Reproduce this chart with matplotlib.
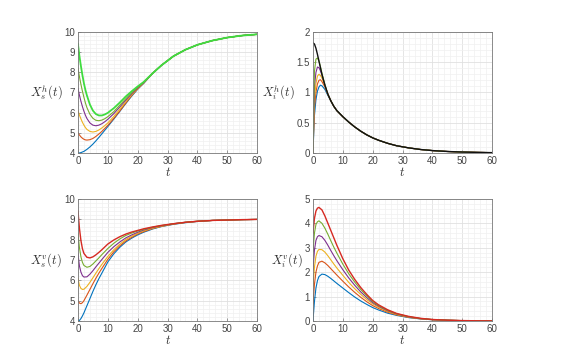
import matplotlib
matplotlib.use('Agg')
import matplotlib.pyplot as plt
import numpy as np
from matplotlib.ticker import MultipleLocator, FormatStrFormatter

plt.rcParams['font.family'] = ['Liberation Sans', 'DejaVu Sans']
plt.rcParams['mathtext.fontset'] = 'cm'

# time samples
t_top = [0, 0.5, 1, 1.5, 2, 2.5, 3, 4, 5, 6, 7, 8, 9, 10, 12, 14, 16, 18, 20, 22,
         25, 28, 32, 36, 40, 45, 50, 55, 60]
t_bot = [0, 0.5, 1, 1.5, 2, 3, 4, 5, 6, 7, 8, 10, 12, 14, 16, 18, 20, 22,
         25, 28, 32, 36, 40, 45, 50, 55, 60]

# X_s^h(t)
xsh_tail = [7.95, 8.35, 8.8, 9.12, 9.36, 9.57, 9.72, 9.82, 9.88]
xsh_1 = [4.0, 4.0, 4.02, 4.05, 4.08, 4.13, 4.18, 4.3, 4.44, 4.6, 4.77, 4.95, 5.13, 5.31,
         5.68, 6.06, 6.45, 6.82, 7.16, 7.45] + xsh_tail
xsh_2 = [5.0, 4.89, 4.8, 4.73, 4.68, 4.65, 4.64, 4.66, 4.72, 4.82, 4.94, 5.07, 5.22, 5.37,
         5.71, 6.08, 6.47, 6.85, 7.18, 7.46] + xsh_tail
xsh_3 = [6.1, 5.88, 5.69, 5.52, 5.38, 5.26, 5.17, 5.07, 5.04, 5.07, 5.14, 5.24, 5.36, 5.49,
         5.81, 6.17, 6.54, 6.89, 7.2, 7.47] + xsh_tail
xsh_4 = [7.2, 6.86, 6.56, 6.3, 6.07, 5.87, 5.71, 5.49, 5.38, 5.35, 5.38, 5.45, 5.55, 5.67,
         5.95, 6.28, 6.62, 6.94, 7.23, 7.48] + xsh_tail
xsh_5 = [8.2, 7.78, 7.4, 7.06, 6.76, 6.48, 6.25, 5.92, 5.72, 5.62, 5.6, 5.63, 5.7, 5.8,
         6.05, 6.37, 6.69, 6.99, 7.26, 7.5] + xsh_tail
xsh_6 = [9.4, 8.8, 8.3, 7.85, 7.45, 7.12, 6.85, 6.4, 6.1, 5.93, 5.86, 5.86, 5.91, 5.99,
         6.22, 6.5, 6.8, 7.06, 7.3, 7.52] + xsh_tail

# X_i^h(t)
xih_tail = [0.86, 0.77, 0.7, 0.65, 0.6, 0.51, 0.43, 0.36, 0.3, 0.25, 0.21,
            0.16, 0.12, 0.085, 0.058, 0.04, 0.025, 0.016, 0.01, 0.006]
xih_1 = [0, 0.62, 0.88, 1.02, 1.09, 1.12, 1.11, 1.05, 0.95] + xih_tail
xih_2 = [0, 0.75, 1.0, 1.14, 1.2, 1.21, 1.18, 1.09, 0.97] + xih_tail
xih_3 = [0, 0.9, 1.15, 1.27, 1.3, 1.28, 1.24, 1.11, 0.97] + xih_tail
xih_4 = [0, 1.1, 1.33, 1.42, 1.41, 1.36, 1.29, 1.12, 0.97] + xih_tail
xih_5 = [0, 1.35, 1.55, 1.57, 1.52, 1.43, 1.32, 1.13, 0.97] + xih_tail
xih_6 = [1.82, 1.8, 1.73, 1.63, 1.52, 1.41, 1.3, 1.12, 0.97] + xih_tail

# X_s^v(t)
xsv_1 = [4.0, 4.03, 4.12, 4.25, 4.4, 4.75, 5.1, 5.45, 5.78, 6.08, 6.35, 6.9, 7.3, 7.62,
         7.88, 8.07, 8.23, 8.36, 8.52, 8.64, 8.75, 8.83, 8.89, 8.94, 8.96, 8.98, 8.99]
xsv_2 = [5.0, 4.88, 4.85, 4.9, 5.0, 5.27, 5.55, 5.83, 6.1, 6.35, 6.58, 7.03, 7.4, 7.69,
         7.93, 8.11, 8.27, 8.39, 8.54, 8.65, 8.76, 8.84, 8.89, 8.94, 8.96, 8.98, 8.99]
xsv_3 = [6.1, 5.75, 5.6, 5.55, 5.56, 5.7, 5.9, 6.12, 6.35, 6.57, 6.78, 7.17, 7.5, 7.77,
         8.0, 8.17, 8.31, 8.43, 8.56, 8.66, 8.77, 8.85, 8.9, 8.94, 8.96, 8.98, 8.99]
xsv_4 = [7.3, 6.7, 6.4, 6.23, 6.16, 6.17, 6.3, 6.47, 6.66, 6.84, 7.02, 7.37, 7.65, 7.88,
         8.08, 8.23, 8.36, 8.47, 8.59, 8.68, 8.78, 8.85, 8.9, 8.94, 8.96, 8.98, 8.99]
xsv_5 = [8.3, 7.6, 7.15, 6.88, 6.73, 6.64, 6.68, 6.8, 6.95, 7.1, 7.26, 7.56, 7.82, 8.03,
         8.2, 8.32, 8.42, 8.5, 8.61, 8.69, 8.78, 8.85, 8.9, 8.94, 8.96, 8.98, 8.99]
xsv_6 = [9.4, 8.55, 7.95, 7.55, 7.32, 7.13, 7.1, 7.15, 7.25, 7.37, 7.5, 7.78, 7.98, 8.14,
         8.27, 8.37, 8.45, 8.53, 8.62, 8.7, 8.78, 8.85, 8.9, 8.94, 8.96, 8.98, 8.99]

# X_i^v(t)
xiv_1 = [0, 0.8, 1.35, 1.65, 1.82, 1.92, 1.9, 1.83, 1.74, 1.64, 1.54, 1.35, 1.16, 0.98,
         0.82, 0.68, 0.55, 0.45, 0.32, 0.23, 0.14, 0.085, 0.05, 0.028, 0.015, 0.008, 0.004]
xiv_2 = [0.7, 1.5, 2.0, 2.25, 2.4, 2.45, 2.38, 2.27, 2.14, 2.01, 1.88, 1.63, 1.39, 1.17,
         0.97, 0.79, 0.63, 0.51, 0.36, 0.25, 0.15, 0.09, 0.053, 0.029, 0.016, 0.008, 0.004]
xiv_3 = [1.4, 2.2, 2.65, 2.85, 2.93, 2.92, 2.82, 2.67, 2.5, 2.33, 2.17, 1.87, 1.58, 1.32,
         1.09, 0.88, 0.7, 0.56, 0.39, 0.27, 0.16, 0.095, 0.056, 0.03, 0.016, 0.008, 0.004]
xiv_4 = [2.1, 2.9, 3.3, 3.45, 3.5, 3.45, 3.3, 3.1, 2.88, 2.67, 2.47, 2.1, 1.76, 1.46,
         1.19, 0.96, 0.75, 0.6, 0.42, 0.29, 0.17, 0.1, 0.058, 0.031, 0.017, 0.009, 0.004]
xiv_5 = [2.85, 3.6, 3.95, 4.06, 4.1, 4.0, 3.8, 3.55, 3.28, 3.02, 2.78, 2.33, 1.93, 1.59,
         1.29, 1.03, 0.8, 0.63, 0.44, 0.3, 0.18, 0.105, 0.06, 0.032, 0.017, 0.009, 0.004]
xiv_6 = [3.6, 4.2, 4.5, 4.62, 4.65, 4.55, 4.3, 4.0, 3.7, 3.4, 3.1, 2.55, 2.08, 1.7,
         1.37, 1.09, 0.84, 0.66, 0.46, 0.31, 0.19, 0.11, 0.062, 0.033, 0.018, 0.009, 0.004]

base_colors = ['#0072BD', '#D95319', '#EDB120', '#7E2F8E', '#77AC30']


def style_axes(ax, ylim, ymajor, yminor, ylabel):
    ax.set_xlim(0, 60)
    ax.set_ylim(*ylim)
    ax.xaxis.set_major_locator(MultipleLocator(10))
    ax.xaxis.set_minor_locator(MultipleLocator(2))
    ax.yaxis.set_major_locator(MultipleLocator(ymajor))
    ax.yaxis.set_minor_locator(MultipleLocator(yminor))
    ax.yaxis.set_major_formatter(FormatStrFormatter('%g'))
    ax.grid(True, which='major', color='#e0e0e0', linewidth=0.6)
    ax.grid(True, which='minor', color='#f0f0f0', linewidth=0.5)
    ax.set_axisbelow(True)
    for s in ax.spines.values():
        s.set_color('#777777')
        s.set_linewidth(0.6)
    ax.tick_params(which='both', direction='in', colors='#777777', labelcolor='#444444',
                   labelsize=7, length=2, width=0.5, pad=2)
    ax.tick_params(which='minor', length=0)
    ax.set_xlabel('$t$', fontsize=9, labelpad=0, color='#333333')
    ax.set_ylabel(ylabel, fontsize=9, rotation=0, color='#333333', labelpad=13,
                  va='center')


fig = plt.figure(figsize=(5.69, 3.49), dpi=100)
ax1 = fig.add_axes([0.137, 0.5616, 0.315, 0.347])
ax2 = fig.add_axes([0.550, 0.5616, 0.315, 0.347])
ax3 = fig.add_axes([0.137, 0.0802, 0.315, 0.350])
ax4 = fig.add_axes([0.550, 0.0802, 0.315, 0.350])

for y, c in zip([xsh_1, xsh_2, xsh_3, xsh_4, xsh_5], base_colors):
    ax1.plot(t_top, y, color=c, linewidth=0.8)
ax1.plot(t_top, xsh_6, color='#3fdc3f', linewidth=1.3)
style_axes(ax1, (4, 10), 1, 0.2, '$X_s^h(t)$')

for y, c in zip([xih_1, xih_2, xih_3, xih_4, xih_5], base_colors):
    ax2.plot(t_top, y, color=c, linewidth=0.8)
ax2.plot(t_top, xih_6, color='#111111', linewidth=1.0)
style_axes(ax2, (0, 2), 0.5, 0.1, '$X_i^h(t)$')

for y, c in zip([xsv_1, xsv_2, xsv_3, xsv_4, xsv_5], base_colors):
    ax3.plot(t_bot, y, color=c, linewidth=0.8)
ax3.plot(t_bot, xsv_6, color='#d62a22', linewidth=1.0)
style_axes(ax3, (4, 10), 1, 0.2, '$X_s^v(t)$')

for y, c in zip([xiv_1, xiv_2, xiv_3, xiv_4, xiv_5], base_colors):
    ax4.plot(t_bot, y, color=c, linewidth=0.8)
ax4.plot(t_bot, xiv_6, color='#d62a22', linewidth=1.0)
style_axes(ax4, (0, 5), 1, 0.2, '$X_i^v(t)$')

fig.savefig('out.png', dpi=100)
